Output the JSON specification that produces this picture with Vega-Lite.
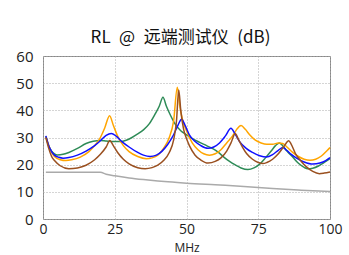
{
  "$schema": "https://vega.github.io/schema/vega-lite/v6.json",
  "autosize": "none",
  "width": 287,
  "height": 163,
  "padding": {"left": 43, "top": 56, "right": 19, "bottom": 36},
  "background": "white",
  "title": {
    "text": "RL\u2002@\u2002远端测试仪\u2002(dB)",
    "font": "Noto Sans CJK SC",
    "fontSize": 17,
    "fontWeight": "normal",
    "color": "#111",
    "anchor": "middle",
    "offset": 2,
    "dx": -6
  },
  "config": {
    "view": {"stroke": "#888", "strokeWidth": 1},
    "axis": {
      "labelFont": "Open Sans",
      "labelFontSize": 15,
      "labelColor": "#222",
      "titleFont": "Open Sans",
      "titleFontSize": 12,
      "titleFontWeight": "normal",
      "titleColor": "#222",
      "domain": false,
      "ticks": false,
      "gridColor": "#aaa",
      "gridDash": [1, 2],
      "gridWidth": 1
    }
  },
  "data": {"values": [
    {"s":"Limit","f":1,"db":17.2},{"s":"Limit","f":20,"db":17.2},{"s":"Limit","f":22,"db":16.5},{"s":"Limit","f":25,"db":15.9},{"s":"Limit","f":30,"db":15.1},{"s":"Limit","f":35,"db":14.5},{"s":"Limit","f":40,"db":14},{"s":"Limit","f":45,"db":13.6},{"s":"Limit","f":50,"db":13.2},{"s":"Limit","f":60,"db":12.6},{"s":"Limit","f":70,"db":12},{"s":"Limit","f":80,"db":11.2},{"s":"Limit","f":90,"db":10.6},{"s":"Limit","f":100,"db":10.1},

    {"s":"Pair 3-6","f":1,"db":30.4},{"s":"Pair 3-6","f":2,"db":27},{"s":"Pair 3-6","f":3,"db":25},{"s":"Pair 3-6","f":4,"db":24},{"s":"Pair 3-6","f":5,"db":23.6},{"s":"Pair 3-6","f":7,"db":23.8},{"s":"Pair 3-6","f":9,"db":24.5},{"s":"Pair 3-6","f":12,"db":26},{"s":"Pair 3-6","f":15,"db":27.8},{"s":"Pair 3-6","f":17.5,"db":28.6},{"s":"Pair 3-6","f":20,"db":28.9},{"s":"Pair 3-6","f":22,"db":28.7},{"s":"Pair 3-6","f":24.4,"db":28.5},{"s":"Pair 3-6","f":27,"db":28.5},{"s":"Pair 3-6","f":29,"db":29},{"s":"Pair 3-6","f":31,"db":30},{"s":"Pair 3-6","f":33,"db":31.3},{"s":"Pair 3-6","f":35,"db":32.8},{"s":"Pair 3-6","f":37,"db":35},{"s":"Pair 3-6","f":39,"db":38.5},{"s":"Pair 3-6","f":40.5,"db":41.5},{"s":"Pair 3-6","f":41.8,"db":44.8},{"s":"Pair 3-6","f":43,"db":41.5},{"s":"Pair 3-6","f":44.5,"db":38},{"s":"Pair 3-6","f":46,"db":35},{"s":"Pair 3-6","f":48,"db":32.5},{"s":"Pair 3-6","f":50,"db":31},{"s":"Pair 3-6","f":52,"db":29.6},{"s":"Pair 3-6","f":54.6,"db":28.2},{"s":"Pair 3-6","f":57,"db":27},{"s":"Pair 3-6","f":59.3,"db":25.8},{"s":"Pair 3-6","f":61,"db":24.6},{"s":"Pair 3-6","f":63,"db":22.8},{"s":"Pair 3-6","f":65,"db":21.2},{"s":"Pair 3-6","f":67,"db":19.9},{"s":"Pair 3-6","f":69,"db":18.8},{"s":"Pair 3-6","f":71.4,"db":18.2},{"s":"Pair 3-6","f":73.5,"db":18.8},{"s":"Pair 3-6","f":75.5,"db":20.2},{"s":"Pair 3-6","f":77.5,"db":22.5},{"s":"Pair 3-6","f":79.5,"db":25},{"s":"Pair 3-6","f":81,"db":27},{"s":"Pair 3-6","f":82.4,"db":28},{"s":"Pair 3-6","f":83.5,"db":27},{"s":"Pair 3-6","f":85,"db":25},{"s":"Pair 3-6","f":87,"db":22.8},{"s":"Pair 3-6","f":89,"db":20.5},{"s":"Pair 3-6","f":91,"db":19},{"s":"Pair 3-6","f":92.2,"db":18.5},{"s":"Pair 3-6","f":94,"db":18.7},{"s":"Pair 3-6","f":96,"db":19.5},{"s":"Pair 3-6","f":98,"db":20.8},{"s":"Pair 3-6","f":100,"db":22.2},

    {"s":"Pair 1-2","f":1,"db":30},{"s":"Pair 1-2","f":2,"db":27},{"s":"Pair 1-2","f":3,"db":24.5},{"s":"Pair 1-2","f":4,"db":23},{"s":"Pair 1-2","f":6,"db":21.8},{"s":"Pair 1-2","f":8,"db":21.5},{"s":"Pair 1-2","f":10,"db":21.8},{"s":"Pair 1-2","f":13,"db":22.8},{"s":"Pair 1-2","f":16,"db":24.8},{"s":"Pair 1-2","f":18,"db":27},{"s":"Pair 1-2","f":20,"db":30},{"s":"Pair 1-2","f":21.5,"db":33.5},{"s":"Pair 1-2","f":23.2,"db":38},{"s":"Pair 1-2","f":24.5,"db":34.5},{"s":"Pair 1-2","f":26,"db":30.5},{"s":"Pair 1-2","f":28,"db":27},{"s":"Pair 1-2","f":30,"db":24.8},{"s":"Pair 1-2","f":33,"db":23},{"s":"Pair 1-2","f":36,"db":22.2},{"s":"Pair 1-2","f":38,"db":22.5},{"s":"Pair 1-2","f":40,"db":23.5},{"s":"Pair 1-2","f":42,"db":26},{"s":"Pair 1-2","f":44,"db":30},{"s":"Pair 1-2","f":45.5,"db":36},{"s":"Pair 1-2","f":46.8,"db":48.5},{"s":"Pair 1-2","f":47.6,"db":42},{"s":"Pair 1-2","f":48.5,"db":37},{"s":"Pair 1-2","f":50,"db":32.5},{"s":"Pair 1-2","f":52,"db":28},{"s":"Pair 1-2","f":54,"db":25.5},{"s":"Pair 1-2","f":56,"db":24},{"s":"Pair 1-2","f":58,"db":23.5},{"s":"Pair 1-2","f":60,"db":24},{"s":"Pair 1-2","f":62,"db":25.5},{"s":"Pair 1-2","f":64,"db":28},{"s":"Pair 1-2","f":66,"db":30.5},{"s":"Pair 1-2","f":67.5,"db":33},{"s":"Pair 1-2","f":69,"db":34.4},{"s":"Pair 1-2","f":70.5,"db":33},{"s":"Pair 1-2","f":72,"db":31},{"s":"Pair 1-2","f":74,"db":29},{"s":"Pair 1-2","f":76,"db":28},{"s":"Pair 1-2","f":78,"db":27.5},{"s":"Pair 1-2","f":80,"db":27.5},{"s":"Pair 1-2","f":82,"db":28},{"s":"Pair 1-2","f":83.5,"db":27.8},{"s":"Pair 1-2","f":85,"db":26.5},{"s":"Pair 1-2","f":87,"db":24.5},{"s":"Pair 1-2","f":89,"db":23},{"s":"Pair 1-2","f":91,"db":22},{"s":"Pair 1-2","f":93,"db":21.6},{"s":"Pair 1-2","f":95,"db":22},{"s":"Pair 1-2","f":97,"db":23.2},{"s":"Pair 1-2","f":99,"db":25.2},{"s":"Pair 1-2","f":100,"db":26.3},

    {"s":"Pair 4-5","f":1,"db":30.6},{"s":"Pair 4-5","f":2,"db":27},{"s":"Pair 4-5","f":3,"db":24.8},{"s":"Pair 4-5","f":4,"db":23.5},{"s":"Pair 4-5","f":5.5,"db":22.7},{"s":"Pair 4-5","f":7,"db":22.4},{"s":"Pair 4-5","f":9,"db":22.6},{"s":"Pair 4-5","f":12,"db":23.5},{"s":"Pair 4-5","f":15,"db":25},{"s":"Pair 4-5","f":18,"db":27},{"s":"Pair 4-5","f":20,"db":28.8},{"s":"Pair 4-5","f":22,"db":30.8},{"s":"Pair 4-5","f":23.8,"db":31.5},{"s":"Pair 4-5","f":25.5,"db":30.5},{"s":"Pair 4-5","f":27.5,"db":28.5},{"s":"Pair 4-5","f":30,"db":26.5},{"s":"Pair 4-5","f":33,"db":24.5},{"s":"Pair 4-5","f":35,"db":23.5},{"s":"Pair 4-5","f":37.3,"db":23},{"s":"Pair 4-5","f":39.5,"db":23.5},{"s":"Pair 4-5","f":41.5,"db":25},{"s":"Pair 4-5","f":43.5,"db":27.5},{"s":"Pair 4-5","f":45.5,"db":31},{"s":"Pair 4-5","f":47,"db":34.5},{"s":"Pair 4-5","f":48.3,"db":36.7},{"s":"Pair 4-5","f":49.5,"db":34.5},{"s":"Pair 4-5","f":51,"db":31},{"s":"Pair 4-5","f":53,"db":28.5},{"s":"Pair 4-5","f":55,"db":27},{"s":"Pair 4-5","f":57.5,"db":26},{"s":"Pair 4-5","f":59.5,"db":26.5},{"s":"Pair 4-5","f":61.5,"db":28},{"s":"Pair 4-5","f":63.5,"db":30.5},{"s":"Pair 4-5","f":65.5,"db":33.4},{"s":"Pair 4-5","f":66.8,"db":31.5},{"s":"Pair 4-5","f":68.5,"db":28.5},{"s":"Pair 4-5","f":70.8,"db":26},{"s":"Pair 4-5","f":73,"db":24.5},{"s":"Pair 4-5","f":75.5,"db":23.3},{"s":"Pair 4-5","f":77.8,"db":22.8},{"s":"Pair 4-5","f":80,"db":23.7},{"s":"Pair 4-5","f":82,"db":25.3},{"s":"Pair 4-5","f":83.6,"db":26.3},{"s":"Pair 4-5","f":85,"db":25.2},{"s":"Pair 4-5","f":86.5,"db":23.8},{"s":"Pair 4-5","f":88.5,"db":22.3},{"s":"Pair 4-5","f":91,"db":21},{"s":"Pair 4-5","f":94,"db":20.2},{"s":"Pair 4-5","f":96.5,"db":20.6},{"s":"Pair 4-5","f":98.5,"db":21.5},{"s":"Pair 4-5","f":100,"db":22.6},

    {"s":"Pair 7-8","f":1,"db":30},{"s":"Pair 7-8","f":2,"db":26},{"s":"Pair 7-8","f":3,"db":23},{"s":"Pair 7-8","f":4,"db":21.5},{"s":"Pair 7-8","f":6,"db":19.6},{"s":"Pair 7-8","f":9,"db":18.5},{"s":"Pair 7-8","f":12,"db":18.8},{"s":"Pair 7-8","f":15,"db":19.8},{"s":"Pair 7-8","f":18,"db":21.8},{"s":"Pair 7-8","f":20,"db":23.8},{"s":"Pair 7-8","f":22,"db":26.5},{"s":"Pair 7-8","f":23.3,"db":28.9},{"s":"Pair 7-8","f":24.5,"db":27},{"s":"Pair 7-8","f":26,"db":24.5},{"s":"Pair 7-8","f":28,"db":22},{"s":"Pair 7-8","f":30,"db":20.3},{"s":"Pair 7-8","f":33,"db":18.9},{"s":"Pair 7-8","f":35.6,"db":18.5},{"s":"Pair 7-8","f":38,"db":18.9},{"s":"Pair 7-8","f":40,"db":19.8},{"s":"Pair 7-8","f":42,"db":21.5},{"s":"Pair 7-8","f":44,"db":24.5},{"s":"Pair 7-8","f":45.5,"db":29},{"s":"Pair 7-8","f":46.5,"db":36},{"s":"Pair 7-8","f":47.3,"db":47.5},{"s":"Pair 7-8","f":48,"db":40},{"s":"Pair 7-8","f":49,"db":33},{"s":"Pair 7-8","f":50,"db":29.6},{"s":"Pair 7-8","f":51,"db":27},{"s":"Pair 7-8","f":53,"db":23.5},{"s":"Pair 7-8","f":55,"db":21.7},{"s":"Pair 7-8","f":57.5,"db":20.6},{"s":"Pair 7-8","f":60,"db":21.2},{"s":"Pair 7-8","f":62,"db":22.5},{"s":"Pair 7-8","f":64,"db":25},{"s":"Pair 7-8","f":65.5,"db":28},{"s":"Pair 7-8","f":67,"db":31.5},{"s":"Pair 7-8","f":68,"db":29.5},{"s":"Pair 7-8","f":69.5,"db":26.5},{"s":"Pair 7-8","f":71,"db":24},{"s":"Pair 7-8","f":73,"db":22},{"s":"Pair 7-8","f":75,"db":20.8},{"s":"Pair 7-8","f":76.6,"db":20.4},{"s":"Pair 7-8","f":78,"db":20.8},{"s":"Pair 7-8","f":80,"db":22},{"s":"Pair 7-8","f":82,"db":24},{"s":"Pair 7-8","f":84,"db":26.8},{"s":"Pair 7-8","f":85.6,"db":28.8},{"s":"Pair 7-8","f":86.5,"db":27.5},{"s":"Pair 7-8","f":88,"db":24},{"s":"Pair 7-8","f":90,"db":21.2},{"s":"Pair 7-8","f":92,"db":19},{"s":"Pair 7-8","f":94,"db":17.5},{"s":"Pair 7-8","f":96.3,"db":16.7},{"s":"Pair 7-8","f":98,"db":16.9},{"s":"Pair 7-8","f":100,"db":17.3}
  ]},
  "mark": {"type": "line", "interpolate": "monotone", "strokeWidth": 1.5},
  "encoding": {
    "x": {
      "field": "f", "type": "quantitative", "title": "MHz",
      "scale": {"domain": [0, 100], "nice": false},
      "axis": {"values": [0, 25, 50, 75, 100], "labelPadding": 3, "labelFontSize": 14, "titlePadding": 6, "labelFlush": false, "grid": true}
    },
    "y": {
      "field": "db", "type": "quantitative", "title": null,
      "scale": {"domain": [0, 60], "nice": false},
      "axis": {"values": [0, 10, 20, 30, 40, 50, 60], "labelPadding": 10, "labelFlush": false, "grid": true}
    },
    "color": {
      "field": "s", "type": "nominal", "legend": null,
      "scale": {
        "domain": ["Limit", "Pair 3-6", "Pair 1-2", "Pair 4-5", "Pair 7-8"],
        "range": ["#aaaaaa", "#2e8b57", "#ffa500", "#1010ff", "#9a5020"]
      }
    },
    "order": {"field": "f", "type": "quantitative"}
  }
}
